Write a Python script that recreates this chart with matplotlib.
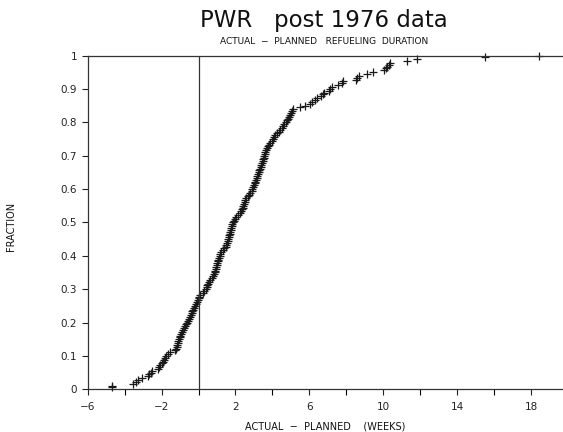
import numpy as np
import matplotlib
matplotlib.use('Agg')
import matplotlib.pyplot as plt

# actual - planned refueling duration (weeks), sorted, one value per outage
weeks = [
    -4.70, -4.70, -3.53, -3.40, -3.26, -3.08, -2.75, -2.68, -2.58, -2.50,
    -2.22, -2.13, -2.06, -2.00, -1.94, -1.87, -1.81, -1.74, -1.66, -1.55,
    -1.30, -1.22, -1.18, -1.15, -1.12, -1.10, -1.07, -1.03, -0.99, -0.95,
    -0.91, -0.86, -0.80, -0.74, -0.67, -0.62, -0.57, -0.52, -0.47, -0.41,
    -0.37, -0.33, -0.29, -0.25, -0.21, -0.15, -0.09, -0.03, 0.01, 0.05,
    0.10, 0.22, 0.32, 0.39, 0.44, 0.48, 0.52, 0.55, 0.63, 0.72,
    0.80, 0.84, 0.88, 0.91, 0.94, 0.96, 0.98, 1.00, 1.04, 1.08,
    1.11, 1.14, 1.17, 1.22, 1.31, 1.40, 1.46, 1.49, 1.53, 1.57,
    1.60, 1.63, 1.66, 1.68, 1.71, 1.74, 1.77, 1.80, 1.83, 1.87,
    1.91, 1.95, 2.05, 2.16, 2.27, 2.32, 2.36, 2.40, 2.43, 2.46,
    2.50, 2.53, 2.58, 2.66, 2.74, 2.81, 2.87, 2.92, 2.97, 3.00,
    3.04, 3.08, 3.11, 3.14, 3.17, 3.21, 3.25, 3.29, 3.33, 3.37,
    3.40, 3.44, 3.47, 3.50, 3.53, 3.56, 3.59, 3.61, 3.66, 3.72,
    3.78, 3.84, 3.89, 3.95, 4.01, 4.06, 4.14, 4.25, 4.35, 4.43,
    4.51, 4.58, 4.65, 4.72, 4.79, 4.85, 4.91, 4.96, 5.02, 5.08,
    5.14, 5.50, 5.77, 6.02, 6.15, 6.28, 6.40, 6.62, 6.72, 6.80,
    7.05, 7.12, 7.20, 7.57, 7.74, 7.84, 8.50, 8.58, 8.66, 9.10,
    9.46, 10.05, 10.15, 10.22, 10.30, 10.38, 11.30, 11.81, 15.51, 18.45,
]
x_labels = [-6, -2, 2, 6, 10, 14, 18]
x_minor = [-4, 0, 4, 8, 12, 16]
y_ticks = [0, 0.1, 0.2, 0.3, 0.4, 0.5, 0.6, 0.7, 0.8, 0.9, 1]

weeks = np.array(weeks)
fraction = np.arange(1, len(weeks) + 1) / len(weeks)

fig = plt.figure(figsize=(5.63, 4.32), dpi=100)
ax = fig.add_axes([0.1558, 0.0988, 0.8432, 0.7727])

ax.plot(weeks, fraction, linestyle='none', marker='+', markersize=6,
        markeredgewidth=0.9, color='#1a1a1a', clip_on=False)
ax.axvline(0, color='#333333', lw=0.9)

ax.set_xlim(-6, 19.7)
ax.set_ylim(0, 1)
ax.set_xticks(x_labels)
ax.set_xticklabels([str(v).replace('-', '\u2212') for v in x_labels])
ax.set_xticks(x_minor, minor=True)
ax.set_yticks(y_ticks)
ax.set_yticklabels(['0' if v == 0 else '1' if v == 1 else '%.1f' % v for v in y_ticks])
ax.tick_params(direction='out', length=4, width=0.8, labelsize=7.5, colors='#222222')
ax.tick_params(which='minor', direction='out', length=4, width=0.8)
ax.tick_params(axis='x', pad=5)

for side in ['left', 'bottom', 'top']:
    ax.spines[side].set_linewidth(0.9)
    ax.spines[side].set_color('#333333')
ax.spines['right'].set_visible(False)

fig.text(0.575, 0.952, 'PWR   post 1976 data', ha='center', va='center',
         fontsize=16.5, color='#111111')
fig.text(0.575, 0.905, 'ACTUAL  \u2212  PLANNED   REFUELING  DURATION', ha='center',
         va='center', fontsize=6.5, color='#111111')
ax.set_xlabel('ACTUAL  \u2212  PLANNED    (WEEKS)', fontsize=7, color='#111111', labelpad=7)
fig.text(0.02, 0.475, 'FRACTION', rotation=90, ha='center', va='center',
         fontsize=7, color='#111111')

fig.savefig('out.png', dpi=100)
